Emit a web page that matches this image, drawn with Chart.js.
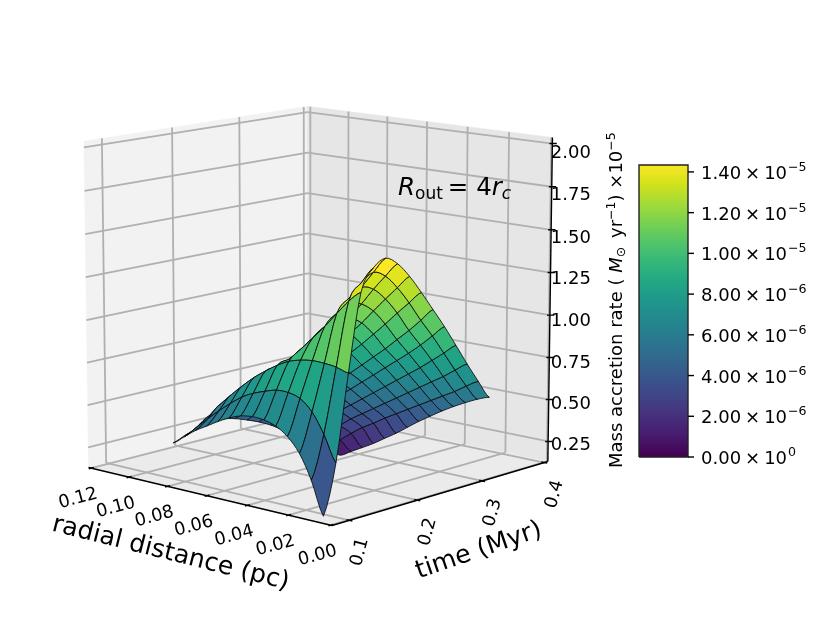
<!DOCTYPE html>
<html><head><meta charset="utf-8">
<style>html,body{margin:0;padding:0;background:#fff}canvas{display:block}</style>
<script src="https://cdn.jsdelivr.net/npm/chart.js@4/dist/chart.umd.min.js"></script>
</head><body><canvas id="c" width="830" height="623"></canvas>
<script>
// ---------- data ----------
const radialGrid=[.0035,.0092,.0148,.0205,.0261,.0318,.0374,.0431,.0487,.0544,.06,.0657,.0713,.077];
const timeGrid=[.075,.0928,.1105,.1283,.146,.1638,.1815,.1993,.217,.2348,.2525,.2703,.288,.3058,.3235];
// mass accretion rate (1e-5): one row per time, one column per radius
const rate=[
[.17,.355,.49,.57,.615,.635,.64,.63,.605,.57,.53,.49,.44,.39],
[.448,.593,.704,.765,.785,.785,.765,.74,.705,.655,.6,.54,.478,.418],
[.93,.95,.958,.96,.95,.93,.895,.85,.80,.74,.675,.605,.525,.44],
[1.36,1.30,1.22,1.135,1.06,.985,.915,.845,.775,.705,.64,.57,.505,.455],
[1.48,1.385,1.29,1.195,1.11,1.03,.95,.875,.80,.725,.655,.585,.515,.456],
[1.52,1.43,1.335,1.235,1.14,1.05,.96,.875,.795,.72,.645,.575,.505,.44],
[1.475,1.395,1.31,1.215,1.125,1.035,.95,.87,.79,.715,.64,.57,.49,.414],
[1.39,1.315,1.24,1.16,1.08,1.005,.925,.85,.78,.705,.635,.555,.47,.384],
[1.285,1.215,1.145,1.07,1.0,.93,.865,.795,.73,.655,.585,.51,.43,.347],
[1.173,1.10,1.03,.965,.90,.84,.78,.72,.66,.60,.54,.475,.39,.30],
[1.06,.995,.93,.87,.815,.76,.705,.65,.595,.54,.48,.415,.335,.256],
[.937,.88,.825,.77,.72,.67,.62,.57,.52,.47,.42,.36,.285,.208],
[.813,.765,.715,.67,.625,.58,.535,.49,.445,.40,.355,.30,.23,.159],
[.695,.655,.61,.57,.53,.49,.45,.41,.37,.325,.285,.235,.18,.11],
[.585,.56,.527,.49,.45,.405,.36,.31,.26,.215,.17,.13,.092,.053]];
const radialTicks=[0,.02,.04,.06,.08,.10,.12];
const radialTickLabels=['0.00','0.02','0.04','0.06','0.08','0.10','0.12'];
const timeTicks=[.1,.2,.3,.4];
const timeTickLabels=['0.1','0.2','0.3','0.4'];
const rateTicks=[.25,.5,.75,1,1.25,1.5,1.75,2];
const rateTickLabels=['0.25','0.50','0.75','1.00','1.25','1.50','1.75','2.00'];
const barTicks=[0,.2,.4,.6,.8,1,1.2,1.4];
const barTickLabels=[['0.00','0'],['2.00','−6'],['4.00','−6'],['6.00','−6'],['8.00','−6'],['1.00','−5'],['1.20','−5'],['1.40','−5']];
const viridis=['#440154','#481a6c','#472f7d','#414487','#39568c','#31688e','#2a788e','#23888e','#1f988b','#22a884','#35b779','#54c568','#7ad151','#a5db36','#d2e21b','#fde725'];
// ---------- axes box and camera ----------
const rLim=[-.0005,.1215],tLim=[.075,.406],zLim=[.13,2.035];
const cam={phi:48*Math.PI/180,el:11.5*Math.PI/180,K:328.5,D:10,cx:319,cy:303.5,zs:1.01};
function proj(r,t,z){
  const dx=(r-rLim[0])/(rLim[1]-rLim[0])-.5,dy=(t-tLim[0])/(tLim[1]-tLim[0])-.5,dz=(z-zLim[0])/(zLim[1]-zLim[0])-.5;
  const sp=Math.sin(cam.phi),cp=Math.cos(cam.phi),se=Math.sin(cam.el),ce=Math.cos(cam.el);
  const right=-dx*sp+dy*cp,g=-(dx*cp+dy*sp),v=dz*ce*cam.zs-g*se,w=g*ce+dz*se,s=1/(1-w/cam.D);
  return {x:cam.cx+cam.K*s*right,y:cam.cy-cam.K*s*v,w};
}
function hex(c){return [1,3,5].map(i=>parseInt(c.substr(i,2),16));}
function cmap(f){f=Math.min(1,Math.max(0,f))*(viridis.length-1);const i=Math.min(viridis.length-2,Math.floor(f)),u=f-i,a=hex(viridis[i]),b=hex(viridis[i+1]);
  return `rgb(${a.map((v,k)=>Math.round(v+(b[k]-v)*u)).join(',')})`;}
const ds=[];
function poly(pts,fill,stroke,lw){ds.push({data:pts.map(p=>({x:p.x,y:p.y})),showLine:true,fill:fill?'shape':false,backgroundColor:fill||'transparent',borderColor:stroke||fill,borderWidth:lw,pointRadius:0,tension:0,clip:false});}
function seg(a,b,c,lw){poly([a,b],null,c,lw);}
const [r0,r1]=rLim,[t0,t1]=tLim,[z0,z1]=zLim;
// panes
poly([proj(r1,t0,z0),proj(r1,t1,z0),proj(r1,t1,z1),proj(r1,t0,z1),proj(r1,t0,z0)],'#f2f2f2','#f2f2f2',.5);
poly([proj(r0,t1,z0),proj(r1,t1,z0),proj(r1,t1,z1),proj(r0,t1,z1),proj(r0,t1,z0)],'#e6e6e6','#e6e6e6',.5);
poly([proj(r0,t0,z0),proj(r1,t0,z0),proj(r1,t1,z0),proj(r0,t1,z0),proj(r0,t0,z0)],'#ebebeb','#ebebeb',.5);
// grid
const gc='#b0b0b0',glw=1.8;
radialTicks.forEach(r=>{seg(proj(r,t1,z0),proj(r,t1,z1),gc,glw);seg(proj(r,t0,z0),proj(r,t1,z0),gc,glw);});
timeTicks.forEach(t=>{seg(proj(r1,t,z0),proj(r1,t,z1),gc,glw);seg(proj(r0,t,z0),proj(r1,t,z0),gc,glw);});
rateTicks.forEach(z=>{seg(proj(r1,t0,z),proj(r1,t1,z),gc,glw);seg(proj(r0,t1,z),proj(r1,t1,z),gc,glw);});
// axis lines and ticks
seg(proj(r0,t0,z0),proj(r1,t0,z0),'#000',1.4);
seg(proj(r0,t0,z0),proj(r0,t1,z0),'#000',1.4);
seg(proj(r0,t1,z0),proj(r0,t1,z1),'#000',1.4);
radialTicks.forEach(r=>seg(proj(r,t0-.0035,z0),proj(r,t0+.0035,z0),'#000',1.4));
timeTicks.forEach(t=>seg(proj(r0-.0014,t,z0),proj(r0+.0014,t,z0),'#000',1.4));
rateTicks.forEach(z=>seg(proj(r0-.0012,t1+.003,z),proj(r0+.0008,t1-.002,z),'#000',1.4));
// surface, painter order; cell edges follow a smooth curve through the table nodes
const nI=timeGrid.length,nJ=radialGrid.length;
const clampI=i=>Math.max(0,Math.min(nI-1,i)),clampJ=j=>Math.max(0,Math.min(nJ-1,j));
function cr(a,b,c,d,u){return .5*(2*b+(c-a)*u+(2*a-5*b+4*c-d)*u*u+(3*b-a-3*c+d)*u*u*u);}
function surf(fi,fj){
  const i=Math.min(nI-2,Math.floor(fi)),j=Math.min(nJ-2,Math.floor(fj)),u=fi-i,v=fj-j;
  const rows=[-1,0,1,2].map(di=>{const R=rate[clampI(i+di)];return cr(R[clampJ(j-1)],R[j],R[j+1],R[clampJ(j+2)],v);});
  const z=cr(rows[0],rows[1],rows[2],rows[3],u);
  return proj(radialGrid[j]+(radialGrid[j+1]-radialGrid[j])*v,timeGrid[i]+(timeGrid[i+1]-timeGrid[i])*u,z);
}
let avgMax=0;const cells=[];const N=4;
for(let i=0;i<nI-1;i++)for(let j=0;j<nJ-1;j++){
  const c=[];
  for(let k=0;k<N;k++)c.push(surf(i+k/N,j));
  for(let k=0;k<N;k++)c.push(surf(i+1,j+k/N));
  for(let k=0;k<N;k++)c.push(surf(i+1-k/N,j+1));
  for(let k=0;k<N;k++)c.push(surf(i,j+1-k/N));
  const avg=(rate[i][j]+rate[i+1][j]+rate[i+1][j+1]+rate[i][j+1])/4;avgMax=Math.max(avgMax,avg);
  cells.push({c,avg,d:c.reduce((s,p)=>s+p.w,0)/c.length});
}
cells.sort((a,b)=>a.d-b.d).forEach(k=>poly([...k.c,k.c[0]],cmap(k.avg/avgMax),'#0a0a0a',.85));
// colour bar
const barL=639,barR=688,barT=165,barB=457,barMax=1.434;
const barY=v=>barB-(barB-barT)*v/barMax;
const levels=[];for(let n=0;n<128;n++)levels.push(barMax*n/128);
levels.forEach(v=>{const y0=barY(v),col=cmap(v/barMax);
  poly([{x:barL,y:y0},{x:barR,y:y0},{x:barR,y:barT},{x:barL,y:barT},{x:barL,y:y0}],col,col,0);});
poly([{x:barL,y:barB},{x:barR,y:barB},{x:barR,y:barT},{x:barL,y:barT},{x:barL,y:barB}],null,'#222',1.4);
barTicks.forEach(v=>seg({x:barR,y:barY(v)},{x:barR+6,y:barY(v)},'#000',1.4));
// ---------- text ----------
const F='"DejaVu Sans"';
function runs(ctx,list,x,y,rot,align){
  ctx.save();ctx.translate(x,y);ctx.rotate(rot*Math.PI/180);ctx.textBaseline='alphabetic';ctx.textAlign='left';ctx.fillStyle='#000';
  let w=0;list.forEach(r=>{ctx.font=`${r.i?'italic ':''}${r.s}px ${F}`;r.w=ctx.measureText(r.t).width+(r.g||0);w+=r.w;});
  let p=align==='center'?-w/2:0;
  list.forEach(r=>{ctx.font=`${r.i?'italic ':''}${r.s}px ${F}`;ctx.fillText(r.t,p,r.d||0);p+=r.w;});
  ctx.restore();
}
const labels={id:'labels',afterDatasetsDraw(ch){const c=ch.ctx;
  radialTicks.forEach((r,i)=>{const p=proj(r,t0,z0);runs(c,[{t:radialTickLabels[i],s:17.8}],p.x-12,p.y+35,-15,'center');});
  timeTicks.forEach((t,i)=>{const p=proj(r0,t,z0);runs(c,[{t:timeTickLabels[i],s:17.8}],p.x+15,p.y+33,-75,'center');});
  const zx=proj(r0,t1,z0).x+3;
  rateTicks.forEach((z,i)=>{const p=proj(r0,t1,z);runs(c,[{t:rateTickLabels[i],s:18}],zx,p.y+8.5+(z-.25)*3.43,0,'left');});
  runs(c,[{t:'radial distance (pc)',s:25.2}],169,560,14,'center');
  runs(c,[{t:'time (Myr)',s:25.2}],481,557,-19,'center');
  runs(c,[{t:'R',s:24.5,i:1},{t:'out',s:17,d:4,g:5},{t:'= 4',s:24.5},{t:'r',s:24.5,i:1},{t:'c',s:17,i:1,d:4}],398,195,0,'left');
  barTicks.forEach((v,i)=>{const [m,e]=barTickLabels[i];
    runs(c,[{t:m,s:18,g:4},{t:'×',s:18,g:4},{t:'10',s:18,g:1},{t:e,s:12.6,d:-8}],701,barY(v)+7,0,'left');});
  runs(c,[{t:'Mass accretion rate ( ',s:18},{t:'M',s:18,i:1},{t:'⊙',s:12.6,d:3,g:3},{t:' yr',s:18},{t:'−1',s:12.6,d:-7},{t:') ×10',s:18},{t:'−5',s:12.6,d:-7}],622,468,-90,'left');
}};
new Chart(document.getElementById('c'),{type:'scatter',plugins:[labels],
  data:{datasets:ds.reverse()},
  options:{responsive:false,animation:false,events:[],layout:{padding:0},
    plugins:{legend:{display:false},tooltip:{enabled:false},title:{display:false},filler:{propagate:false}},
    scales:{x:{type:'linear',display:false,min:0,max:830},y:{type:'linear',display:false,min:0,max:623,reverse:true}}}});
</script></body></html>
